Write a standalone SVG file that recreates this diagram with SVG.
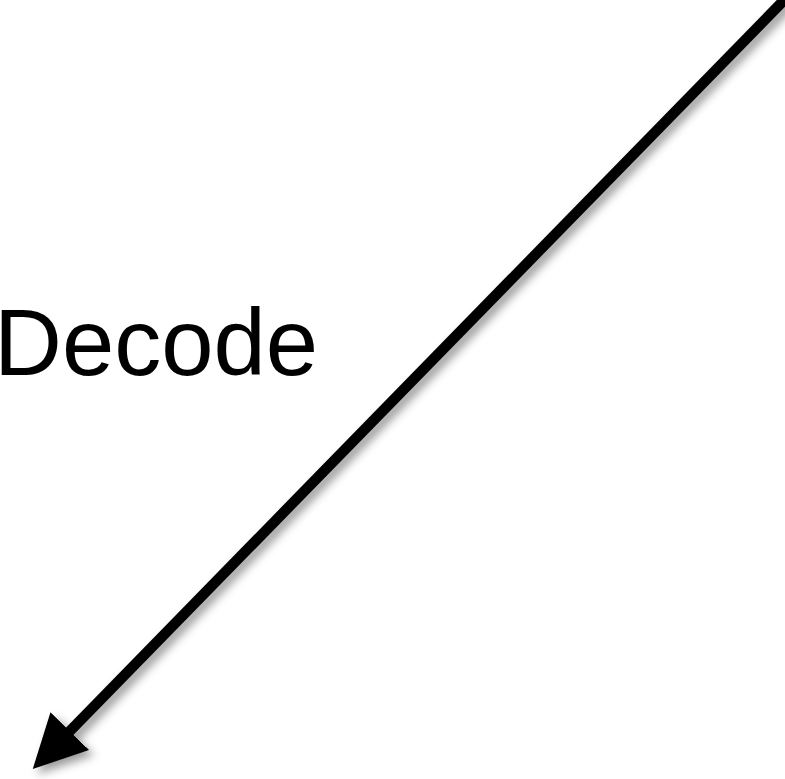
<svg xmlns="http://www.w3.org/2000/svg" width="785" height="779" viewBox="0 0 785 779">
<defs>
<filter id="sh" x="-20%" y="-20%" width="140%" height="140%">
<feDropShadow dx="5" dy="5" stdDeviation="5" flood-color="#000" flood-opacity="0.4"/>
</filter>
<marker id="ah" markerUnits="userSpaceOnUse" viewBox="0 0 53 54" markerWidth="53" markerHeight="54" refX="2" refY="27" orient="auto">
<path d="M0,0 L53,27 L0,54 Z" fill="#000"/>
</marker>
<style>
.lbl{font-family:"Liberation Sans",Arial,sans-serif;font-size:94px;fill:#000}
.edge{stroke:#000;stroke-width:10.5;fill:none}
</style>
</defs>
<rect width="785" height="779" fill="#fff"/>
<g id="label-decode">
<text class="lbl" x="-6" y="375">Decode</text>
</g>
<g id="connectors" filter="url(#sh)">
<line class="edge" x1="793" y1="-9" x2="68.4" y2="732.6" marker-end="url(#ah)"/>
</g>
</svg>
